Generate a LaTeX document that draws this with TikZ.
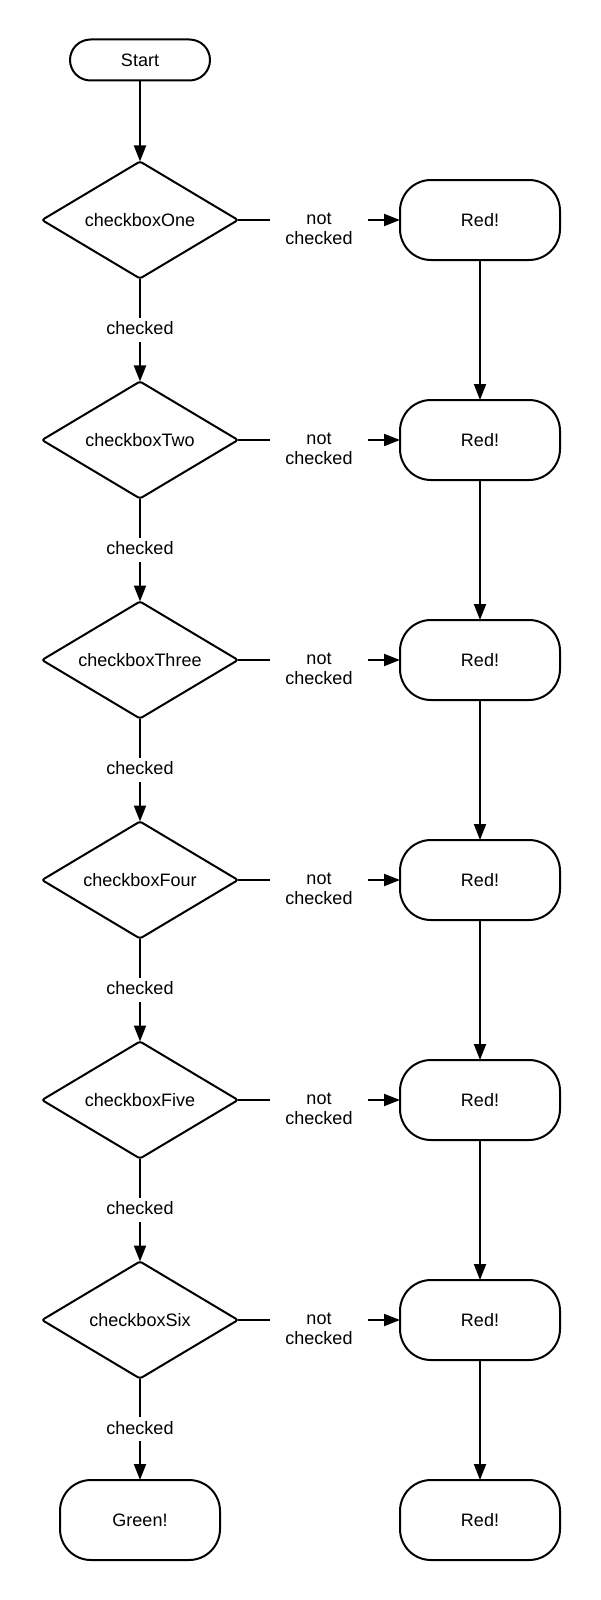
\documentclass[tikz,border=0pt]{standalone}
\usepackage{fontspec}
\setmainfont{Liberation Sans}
\usetikzlibrary{arrows.meta,shapes.geometric}
\begin{document}
\begin{tikzpicture}[x=1pt,y=-1pt,
  font=\fontsize{18}{20.4}\selectfont,
  every node/.style={outer sep=0pt},
  arr/.style={line width=2pt, -{Triangle[length=16pt,width=12pt]}},
  term/.style={draw, line width=2pt, rounded corners=20.5pt, minimum width=140pt, minimum height=41pt},
  endbox/.style={draw, line width=2pt, rounded corners=31pt, minimum width=160pt, minimum height=80pt},
  decision/.style={draw, diamond, line width=2pt, rounded corners=2.5pt, minimum width=196pt, minimum height=117pt, inner sep=0pt, aspect=1.675},
  vlbl/.style={fill=white, inner xsep=2pt, inner ysep=3.5pt, text depth=3.5pt},
  hlbl/.style={fill=white, align=center, inner xsep=15pt, inner ysep=3pt, yshift=-9pt}
]
\useasboundingbox[fill=white] (0,0) rectangle (600,1600);

\node[term] (start) at (140,60) {Start};

\foreach \i/\nm in {1/One,2/Two,3/Three,4/Four,5/Five,6/Six}{
  \node[decision] (d\i) at (140,220*\i) {checkbox\nm};
  \node[endbox] (r\i) at (480,220*\i) {Red!};
}
\node[endbox] (green) at (140,1520) {Green!};
\node[endbox] (r7) at (480,1520) {Red!};

\draw[arr] (start) -- (d1);

\foreach \i in {1,...,6}{
  \pgfmathtruncatemacro{\j}{\i+1}
  \draw[arr] (d\i.east) -- node[hlbl]{not\\checked} (r\i.west);
  \draw[arr] (r\i) -- (r\j);
}
\foreach \i in {1,...,5}{
  \pgfmathtruncatemacro{\j}{\i+1}
  \draw[arr] (d\i) -- node[vlbl]{checked} (d\j);
}
\draw[arr] (d6) -- node[vlbl]{checked} (green);
\end{tikzpicture}
\end{document}
